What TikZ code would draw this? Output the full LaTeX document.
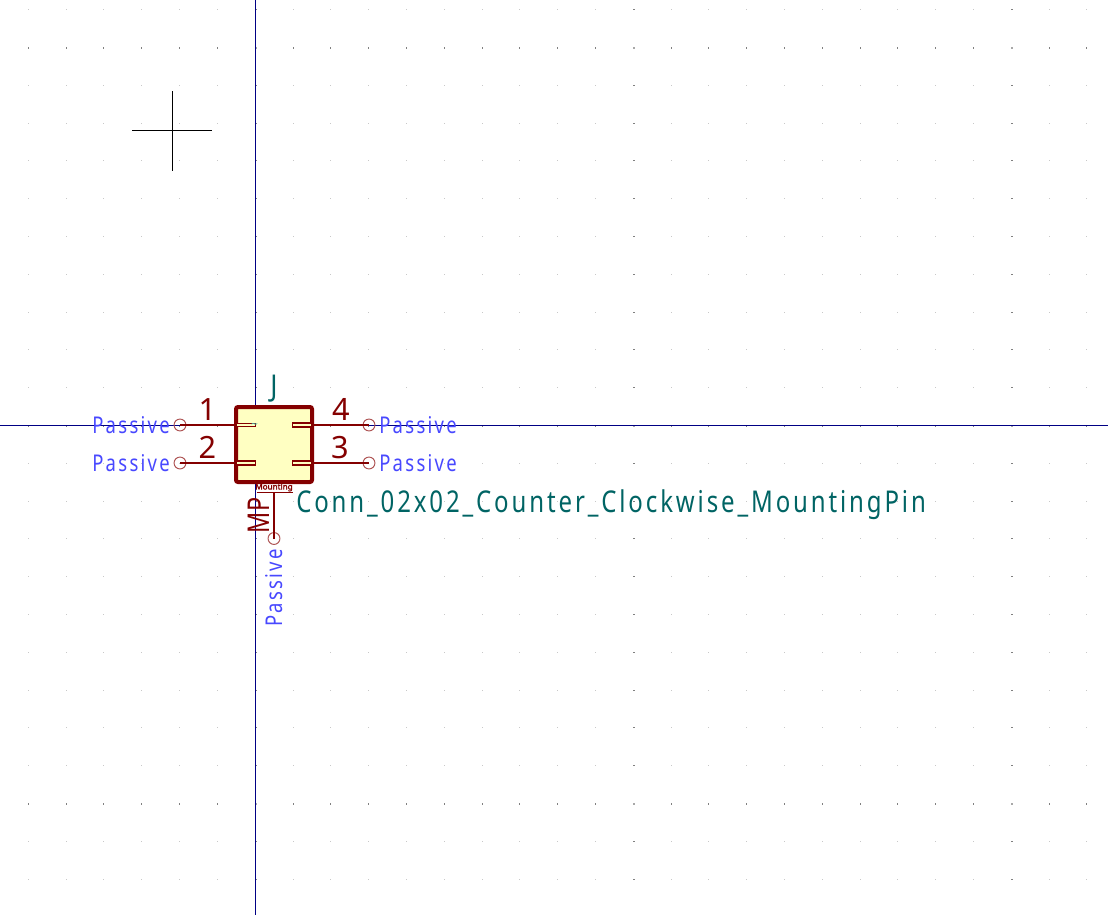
\documentclass[tikz,border=0pt]{standalone}
\usepackage{fontspec}
\setmainfont{Noto Sans}
\newfontfamily\kpin{Noto Sans}[LetterSpace=10,FakeStretch=0.80]
\newfontfamily\kval{Noto Sans}[LetterSpace=9.6,FakeStretch=0.80]
\newfontfamily\knum{Noto Sans}[FakeStretch=1.0]
\newfontfamily\kref{Noto Sans}[FakeStretch=0.88]
\newfontfamily\kmp{Noto Sans}[FakeStretch=0.78,LetterSpace=4]
\newfontfamily\kmnt{Noto Sans}[FakeBold=2.5,FakeStretch=1.05]
\definecolor{kbody}{HTML}{840000}
\definecolor{kfill}{HTML}{FFFFC2}
\definecolor{kpad}{HTML}{B05858}
\definecolor{kaxis}{HTML}{000084}
\definecolor{kblue}{HTML}{4848FF}
\definecolor{kteal}{HTML}{006464}
\definecolor{ktilde}{HTML}{40B0A8}
\definecolor{kgridl}{HTML}{C8C8C8}
\definecolor{kgridd}{HTML}{808080}
\definecolor{kgridx}{HTML}{A8A8A8}
\tikzset{
  x=0.75pt,y=-0.75pt,
  axisline/.style={draw=kaxis,line width=0.75pt},
  wireline/.style={draw=kbody,line width=1.5pt},
  bodybox/.style={draw=kbody,fill=kfill,line width=3pt,rounded corners=1.5pt},
  socket/.style={draw=kbody,fill=kfill,line width=1.3pt},
  pad/.style={circle,draw=kpad,line width=0.75pt,minimum size=8.9pt,inner sep=0pt},
  pinname/.style={text=kbody,font=\knum\fontsize{23}{24}\selectfont,inner sep=0pt},
  passive/.style={text=kblue,font=\kpin\fontsize{17.3}{18}\selectfont,inner sep=0pt},
  valtext/.style={text=kteal,font=\kval\fontsize{22.5}{23}\selectfont,inner sep=0pt},
}
\begin{document}
\begin{tikzpicture}
\useasboundingbox (0,0) rectangle (1108,915);
\fill[white] (0,0) rectangle (1108,915);
% grid of dots
\foreach \i in {-6,...,22}{
  \foreach \j in {-11,...,12}{
    \pgfmathtruncatemacro{\px}{floor(255.2+37.8*\i)}
    \pgfmathtruncatemacro{\py}{floor(425.5+37.8*\j)}
    \pgfmathtruncatemacro{\cc}{(\i==0||\i==10||\i==20)?1:0}
    \pgfmathtruncatemacro{\rr}{(\j==-10||\j==0||\j==10)?1:0}
    \ifnum\cc=1
      \ifnum\rr=1
        \fill[kgridx] (\px,\py) rectangle ++(2,2);
      \else
        \fill[kgridd] (\px,\py) rectangle ++(2,1);
      \fi
    \else
      \ifnum\rr=1
        \fill[kgridd] (\px,\py) rectangle ++(1,2);
      \else
        \fill[kgridl] (\px,\py) rectangle ++(1,1);
      \fi
    \fi
  }
}
% axes
\coordinate (axT) at (255.5,0);
\coordinate (axB) at (255.5,915);
\coordinate (axL) at (0,425.5);
\coordinate (axR) at (1108,425.5);
\draw[axisline] (axT) -- (axB);
\draw[axisline] (axL) -- (axR);
% cursor
\coordinate (curT) at (172.3,91);
\coordinate (curB) at (172.3,170.5);
\coordinate (curL) at (132,130.4);
\coordinate (curR) at (212,130.4);
\draw[black,line width=0.75pt] (curT) -- (curB);
\draw[black,line width=0.75pt] (curL) -- (curR);
% pads
\node[pad] (p1) at (180,425) {};
\node[pad] (p2) at (180,463) {};
\node[pad] (p4) at (369,425) {};
\node[pad] (p3) at (369,463) {};
\node[pad] (pm) at (274,538.5) {};
% body
\coordinate (b1) at (236,425);
\coordinate (b2) at (236,463);
\coordinate (b4) at (312,425);
\coordinate (b3) at (312,463);
\coordinate (bm) at (274,492.5);
\draw[wireline] (p1.center) -- (b1);
\draw[wireline] (p2.center) -- (b2);
\draw[wireline] (p4.center) -- (b4);
\draw[wireline] (p3.center) -- (b3);
\draw[wireline] (pm.center) -- (bm);
\draw[bodybox] (236,407) rectangle (312,482);
\draw[socket] (236,423.5) rectangle (255.5,426.5);
\draw[socket] (236,460.8) rectangle (255.5,465.1);
\draw[socket] (292.5,423.3) rectangle (312,426.8);
\draw[socket] (292.5,460.8) rectangle (312,465.1);
\node[text=ktilde,font=\fontsize{9}{9}\selectfont,inner sep=0pt] (tl) at (254.5,425.5) {\~{}};
% mounting
\node[text=kbody,font=\kmnt\fontsize{5.8}{6}\selectfont,inner sep=0pt] (mt) at (274,487.5) {Mounting};
\coordinate (mL) at (256.5,492.5);
\coordinate (mR) at (292.5,492.5);
\draw[kbody,line width=1.1pt] (mL) -- (mR);
% pin numbers
\node[pinname,anchor=base] (n1) at (207.5,420) {1};
\node[pinname,anchor=base] (n2) at (207.5,458) {2};
\node[pinname,anchor=base] (n4) at (341,420) {4};
\node[pinname,anchor=base] (n3) at (340,458) {3};
\node[anchor=base west,rotate=90,text=kbody,font=\kmp\fontsize{22.5}{23}\selectfont,inner sep=0pt] (nm) at (269,534) {MP};
% electrical type labels
\node[passive,anchor=base west] (t1) at (92,433) {Passive};
\node[passive,anchor=base west] (t2) at (92,471) {Passive};
\node[passive,anchor=base west] (t4) at (379,433) {Passive};
\node[passive,anchor=base west] (t3) at (379,471) {Passive};
\node[passive,anchor=base west,rotate=90] (tm) at (282,627) {Passive};
% fields
\node[text=kteal,font=\kref\fontsize{22.5}{23}\selectfont,inner sep=0pt,anchor=base] (ref) at (274,396) {J};
\node[valtext,anchor=base west] (val) at (296,512) {Conn\_02x02\_Counter\_Clockwise\_MountingPin};
\end{tikzpicture}
\end{document}
